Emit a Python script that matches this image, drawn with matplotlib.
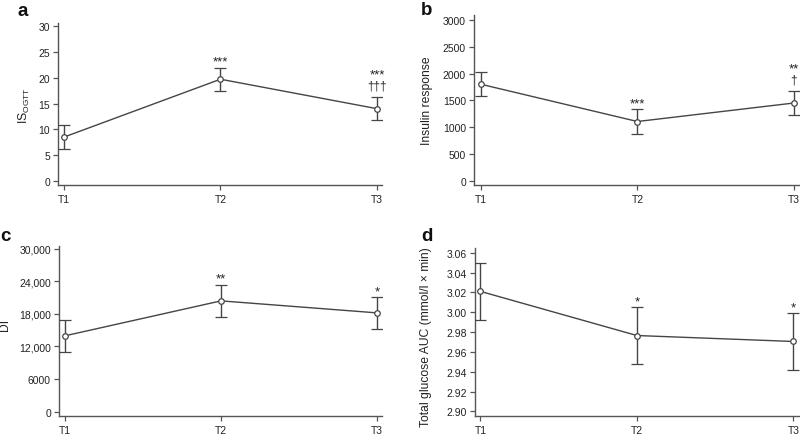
import matplotlib
matplotlib.use("Agg")
import matplotlib.pyplot as plt
from matplotlib.ticker import FixedLocator

plt.rcParams['font.family'] = ['Liberation Sans', 'DejaVu Sans']
plt.rcParams['mathtext.fontset'] = 'custom'
plt.rcParams['mathtext.rm'] = 'Liberation Sans'
plt.rcParams['mathtext.it'] = 'Liberation Sans'
plt.rcParams['mathtext.default'] = 'regular'

# ---------------- data ----------------
timepoints = ["T1", "T2", "T3"]

is_ogtt_mean = [8.5, 19.7, 14.0]
is_ogtt_err = [2.3, 2.25, 2.25]
is_ogtt_stars = ["", "***", "***"]
is_ogtt_daggers = ["", "", "†††"]
is_ogtt_ticks = [0, 5, 10, 15, 20, 25, 30]

insulin_mean = [1800, 1105, 1450]
insulin_err = [225, 230, 220]
insulin_stars = ["", "***", "**"]
insulin_daggers = ["", "", "†"]
insulin_ticks = [0, 500, 1000, 1500, 2000, 2500, 3000]

di_mean = [13950, 20380, 18170]
di_err = [2900, 2950, 2920]
di_stars = ["", "**", "*"]
di_daggers = ["", "", ""]
di_ticks = [0, 6000, 12000, 18000, 24000, 30000]
di_ticklabels = ["0", "6000", "12,000", "18,000", "24,000", "30,000"]

auc_mean = [3.021, 2.9765, 2.9705]
auc_err = [0.0285, 0.0285, 0.0285]
auc_stars = ["", "*", "*"]
auc_daggers = ["", "", ""]
auc_ticks = [2.90, 2.92, 2.94, 2.96, 2.98, 3.00, 3.02, 3.04, 3.06]
auc_ticklabels = ["2.90", "2.92", "2.94", "2.96", "2.98", "3.00", "3.02", "3.04", "3.06"]

# ---------------- figure ----------------
W, H = 800, 435
fig = plt.figure(figsize=(W / 100, H / 100), dpi=100)

TXT = '#222222'
LINE = '#454545'
SPINE = '#555555'


def px_axes(left, top, right, bottom):
    return fig.add_axes([left / W, 1 - bottom / H, (right - left) / W, (bottom - top) / H])


def panel(ax, mean, err, stars, daggers, ticks, ticklabels, xlim, ylim, ylabel, labelxy):
    x = [1, 2, 3]
    ax.errorbar(x, mean, yerr=err, color=LINE, lw=1.0, elinewidth=1.0,
                capsize=4.3, capthick=1.0, marker='o', ms=4.0,
                mfc='white', mec=LINE, mew=0.9, zorder=3)
    ax.set_xlim(*xlim)
    ax.set_ylim(*ylim)
    ax.set_xticks(x)
    ax.set_xticklabels(timepoints)
    ax.yaxis.set_major_locator(FixedLocator(ticks))
    ax.set_yticklabels(ticklabels)
    for s in ['top', 'right']:
        ax.spines[s].set_visible(False)
    for s in ['left', 'bottom']:
        ax.spines[s].set_color(SPINE)
        ax.spines[s].set_linewidth(1.0)
    ax.tick_params(axis='both', direction='out', length=3.6, width=0.9,
                   color=SPINE, labelsize=7.5, labelcolor=TXT)
    ax.tick_params(axis='y', pad=2.2)
    ax.tick_params(axis='x', pad=3.0)
    ax.set_ylabel(ylabel, fontsize=8.7, color=TXT)
    ax.yaxis.set_label_coords(*labelxy)
    for xi, m, e, st, dg in zip(x, mean, err, stars, daggers):
        top = m + e
        if dg:
            ax.annotate(dg, (xi, top), xytext=(0, 12), textcoords='offset pixels',
                        ha='center', va='center', fontsize=8.5, color=TXT)
            if st:
                ax.annotate(st, (xi, top), xytext=(0, 23), textcoords='offset pixels',
                            ha='center', va='center', fontsize=9.5, color=TXT)
        elif st:
            ax.annotate(st, (xi, top), xytext=(0, 6), textcoords='offset pixels',
                        ha='center', va='center', fontsize=9.5, color=TXT)


ax_a = px_axes(58, 24, 382, 186)
panel(ax_a, is_ogtt_mean, is_ogtt_err, is_ogtt_stars, is_ogtt_daggers,
      is_ogtt_ticks, [str(t) for t in is_ogtt_ticks],
      (0.962, 3.032), (-0.77, 30.58), r"IS$_{OGTT}$", (-0.08, 0.5))

ax_b = px_axes(474, 16, 800, 186)
panel(ax_b, insulin_mean, insulin_err, insulin_stars, insulin_daggers,
      insulin_ticks, [str(t) for t in insulin_ticks],
      (0.955, 3.04), (-80, 3093), "Insulin response", (-0.126, 0.5))

ax_c = px_axes(59, 247, 382, 417)
panel(ax_c, di_mean, di_err, di_stars, di_daggers,
      di_ticks, di_ticklabels,
      (0.9615, 3.032), (-810, 30478), "DI", (-0.149, 0.54))

ax_d = px_axes(475, 249, 799, 417)
panel(ax_d, auc_mean, auc_err, auc_stars, auc_daggers,
      auc_ticks, auc_ticklabels,
      (0.9655, 3.036), (2.8954, 3.0647), "Total glucose AUC (mmol/l × min)", (-0.132, 0.476))

for letter, lx, by in [("a", 17, 16), ("b", 421, 15), ("c", 0, 241), ("d", 421, 241)]:
    fig.text(lx / W, 1 - by / H, letter, ha='left', va='baseline',
             fontsize=13.5, fontweight='bold', color='#111111')

fig.savefig("out.png", dpi=100)
